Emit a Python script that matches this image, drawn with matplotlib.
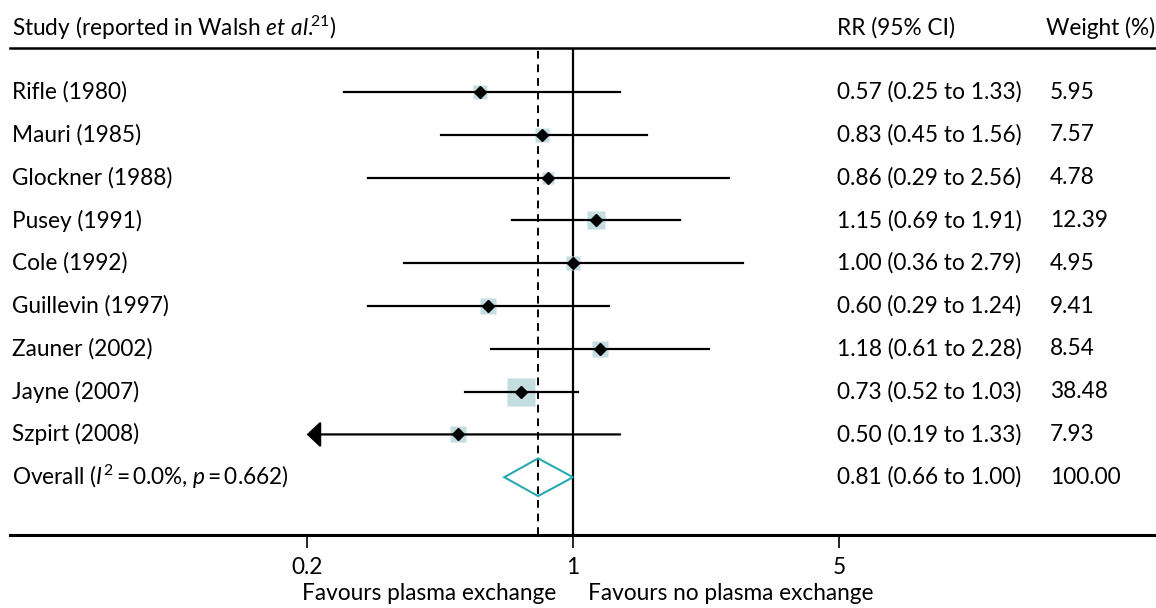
import numpy as np
import matplotlib
matplotlib.use("Agg")
import matplotlib.pyplot as plt
from matplotlib.patches import Polygon
from matplotlib.transforms import blended_transform_factory

plt.rcParams['font.family'] = ['Lato', 'DejaVu Sans']
plt.rcParams['mathtext.fontset'] = 'custom'
plt.rcParams['mathtext.rm'] = 'Lato'
plt.rcParams['mathtext.it'] = 'Lato:italic'

studies = ["Rifle (1980)", "Mauri (1985)", "Glockner (1988)", "Pusey (1991)", "Cole (1992)",
           "Guillevin (1997)", "Zauner (2002)", "Jayne (2007)", "Szpirt (2008)"]
rr = [0.57, 0.83, 0.86, 1.15, 1.00, 0.60, 1.18, 0.73, 0.50]
lo = [0.25, 0.45, 0.29, 0.69, 0.36, 0.29, 0.61, 0.52, 0.19]
hi = [1.33, 1.56, 2.56, 1.91, 2.79, 1.24, 2.28, 1.03, 1.33]
weights = [5.95, 7.57, 4.78, 12.39, 4.95, 9.41, 8.54, 38.48, 7.93]
overall = (0.81, 0.66, 1.00)
overall_label = "Overall ($I^{2}\\,$=$\\,$0.0%, $p\\,$=$\\,$0.662)"
xticks = [0.2, 1, 5]
xticklabels = ["0.2", "1", "5"]

fig = plt.figure(figsize=(11.56, 6.08), dpi=100)
W, H = 1156, 608
# axes from x=10px to right edge, y from 48px to 535px (top-down)
ax = fig.add_axes([10 / W, (H - 535) / H, 1146 / W, (535 - 48) / H])
ax.set_xscale('log')
ax.set_xlim(10 ** ((10 - 573) / 381), 10 ** ((1156 - 573) / 381))
ax.set_ylim(10.35, -1.03)

fs = 16.3
for s in ['left', 'right']:
    ax.spines[s].set_visible(False)
ax.spines['top'].set_linewidth(1.8)
ax.spines['bottom'].set_linewidth(2.2)
ax.set_yticks([])
ax.set_xticks(xticks)
ax.set_xticklabels(xticklabels, fontsize=fs)
ax.minorticks_off()
ax.tick_params(axis='x', length=9, width=1.2, pad=7)

ax.axvline(1, color='black', lw=1.6, zorder=1)
ax.axvline(overall[0], color='black', lw=1.4, ls=(0, (4, 3)), zorder=1)

xmin = min(xticks)
for i in range(len(studies)):
    l = max(lo[i], xmin)
    if lo[i] < xmin:
        ax.annotate('', xy=(l, i), xytext=(hi[i], i),
                    arrowprops=dict(arrowstyle='-|>,head_length=0.85,head_width=0.8',
                                    color='black', lw=1.6, shrinkA=0, shrinkB=0))
    else:
        ax.plot([l, hi[i]], [i, i], color='black', lw=1.6, zorder=2)
    ms = (5 + 3.6 * np.sqrt(weights[i])) * 0.72
    ax.plot(rr[i], i, marker='s', ms=ms, color='#c3dde0', mec='none', zorder=1.5)
    ax.plot(rr[i], i, marker='D', ms=6, color='black', zorder=3)

yo = len(studies)
dh = 0.44
diamond = Polygon([(overall[1], yo), (overall[0], yo - dh), (overall[2], yo), (overall[0], yo + dh)],
                  closed=True, fill=False, edgecolor='#2aa9b0', lw=1.5, zorder=3)
ax.add_patch(diamond)

tr = blended_transform_factory(fig.transFigure, ax.transData)
labels = studies + [overall_label]
cis = ["%.2f (%.2f to %.2f)" % (rr[i], lo[i], hi[i]) for i in range(len(studies))]
cis.append("%.2f (%.2f to %.2f)" % overall)
wts = ["%.2f" % w for w in weights] + ["100.00"]
for i in range(len(labels)):
    ax.text(12 / W, i, labels[i], transform=tr, ha='left', va='center', fontsize=fs)
    ax.text(837 / W, i, cis[i], transform=tr, ha='left', va='center', fontsize=fs)
    ax.text(1050 / W, i, wts[i], transform=tr, ha='left', va='center', fontsize=fs)

fig.text(12 / W, (H - 28) / H, "Study (reported in Walsh $\\mathit{et\\ al}.\\!\\!{}^{21}$)",
         ha='left', va='center', fontsize=fs)
fig.text(837 / W, (H - 28) / H, "RR (95% CI)", ha='left', va='center', fontsize=fs)
fig.text(1155 / W, (H - 28) / H, "Weight (%)", ha='right', va='center', fontsize=fs)

fig.text(556 / W, (H - 594) / H, "Favours plasma exchange", ha='right', va='center', fontsize=fs)
fig.text(588 / W, (H - 594) / H, "Favours no plasma exchange", ha='left', va='center', fontsize=fs)

fig.savefig("out.png", dpi=100)
